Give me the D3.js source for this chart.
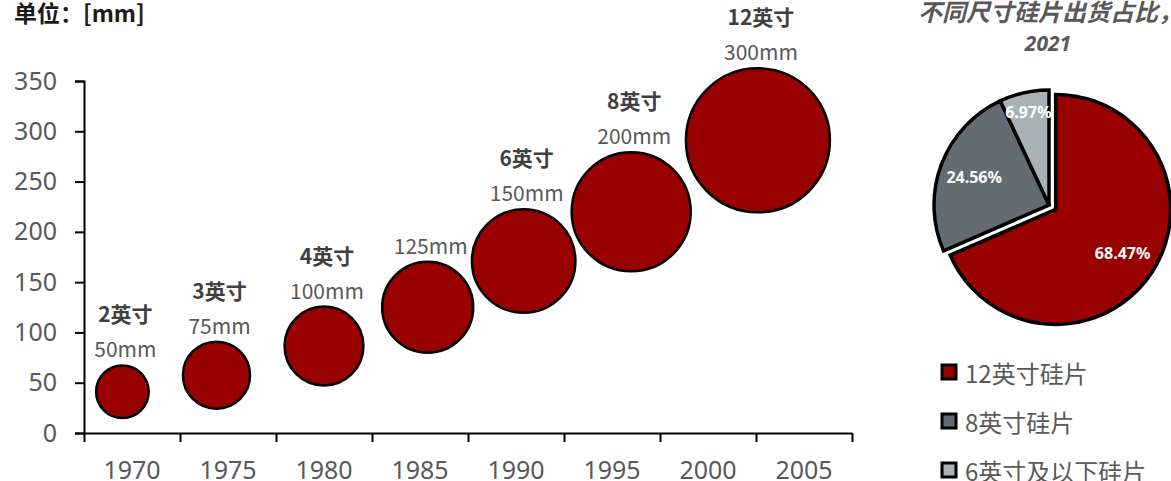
<!DOCTYPE html>
<html><head><meta charset="utf-8">
<script src="https://cdn.jsdelivr.net/npm/d3@7"></script>
<style>
body{margin:0;background:#fff;}
svg{display:block;font-family:"Noto Sans CJK SC","Noto Sans",sans-serif;}
</style></head>
<body><div id="chart"></div>
<script>
// ---- data ----
const yearLabels = ["1970","1975","1980","1985","1990","1995","2000","2005"];
const bubbleYears = [1969.5, 1974.4, 1980.0, 1985.4, 1990.4, 1996.0, 2002.6];
const bubbleValues = [41, 57.5, 86.5, 125, 171, 220, 291];
const bubbleSizes = [40, 65, 90, 120, 155, 205, 300];
const inchLabels = ["2英寸","3英寸","4英寸","","6英寸","8英寸","12英寸"];
const mmLabels = ["50mm","75mm","100mm","125mm","150mm","200mm","300mm"];
const yTicks = [0,50,100,150,200,250,300,350];
const pieCategories = ["12英寸硅片","8英寸硅片","6英寸及以下硅片"];
const pieValues = [68.47, 24.56, 6.97];
const pieColors = ["#990000","#646c71","#aab1b4"];

const W = 1171, H = 481;
const svg = d3.select("#chart").append("svg").attr("width",W).attr("height",H);

// ---- bubble chart ----
const x = d3.scaleLinear().domain([1967.5, 2007.5]).range([84, 852]);
const xBand = d3.scaleBand().domain(yearLabels).range([84, 852]);
const y = d3.scaleLinear().domain([0, 350]).range([433, 81]);
const r = d3.scaleSqrt().domain([0, 300]).range([0, 72]);

svg.append("text").attr("x",14).attr("y",12).attr("dominant-baseline","central")
  .attr("font-size",23).attr("font-weight","bold").attr("fill","#1a1a1a").text("单位：[mm]");

// y axis
const yAxis = svg.append("g").attr("transform","translate(84,0)")
  .call(d3.axisLeft(y).tickValues(yTicks).tickSize(9).tickPadding(18));
yAxis.select(".domain").attr("stroke","#000").attr("stroke-width",2);
yAxis.selectAll(".tick line").attr("stroke","#000").attr("stroke-width",2);
yAxis.selectAll(".tick text").attr("font-size",25).attr("fill","#595959")
  .attr("font-family","'Noto Sans',sans-serif");

// x axis (boundary ticks)
const bounds = d3.range(0, yearLabels.length+1).map(i => 1967.5 + 5*i);
const xAxis = svg.append("g").attr("transform","translate(0,433)")
  .call(d3.axisBottom(x).tickValues(bounds).tickSize(9).tickSizeOuter(0).tickFormat(""));
xAxis.select(".domain").attr("stroke","#000").attr("stroke-width",2);
xAxis.selectAll(".tick line").attr("stroke","#000").attr("stroke-width",2);
const xLab = svg.append("g").attr("transform","translate(0,433)")
  .call(d3.axisBottom(xBand).tickSize(0).tickPadding(28));
xLab.select(".domain").remove();
xLab.selectAll(".tick text").attr("font-size",25).attr("fill","#595959")
  .attr("font-family","'Noto Sans',sans-serif");

const bubbles = bubbleYears.map((yr,i)=>({yr, v:bubbleValues[i], s:bubbleSizes[i], inch:inchLabels[i], mm:mmLabels[i]}));
svg.append("g").selectAll("circle").data(bubbles).join("circle")
  .attr("cx",d=>x(d.yr)).attr("cy",d=>y(d.v)).attr("r",d=>r(d.s))
  .attr("fill","#990000").attr("stroke","#000").attr("stroke-width",2.5);

const lab = svg.append("g").selectAll("g").data(bubbles).join("g");
lab.append("text").attr("x",d=>x(d.yr)+3).attr("y",d=>y(d.v)-r(d.s)-17)
  .attr("text-anchor","middle").attr("dominant-baseline","central")
  .attr("font-size",21).attr("fill","#595959").text(d=>d.mm);
lab.append("text").attr("x",d=>x(d.yr)+3).attr("y",d=>y(d.v)-r(d.s)-52)
  .attr("text-anchor","middle").attr("dominant-baseline","central")
  .attr("font-size",21).attr("font-weight","bold").attr("fill","#404040").text(d=>d.inch);

// ---- pie ----
const pieG = svg.append("g");
pieG.append("text").attr("x",1050).attr("y",10).attr("text-anchor","middle").attr("dominant-baseline","central")
  .attr("font-size",24).attr("font-style","italic").attr("font-weight","bold").attr("fill","#595959")
  .text("不同尺寸硅片出货占比，");
pieG.append("text").attr("x",1048).attr("y",43).attr("text-anchor","middle").attr("dominant-baseline","central")
  .attr("font-size",21).attr("font-style","italic").attr("font-weight","bold").attr("fill","#595959")
  .attr("font-family","'Noto Sans',sans-serif").text("2021");

const pieData = pieCategories.map((c,i)=>({c, v:pieValues[i], col:pieColors[i]}));
const arcs = d3.pie().sort(null).value(d=>d.v)(pieData);
const R = 115;
const arc = d3.arc().innerRadius(0).outerRadius(R);
const cx0 = 1049, cy0 = 205;
const explode = [8, 0, 0];
const sl = pieG.selectAll("g.slice").data(arcs).join("g").attr("class","slice")
  .attr("transform",(d,i)=>{
    const a = (d.startAngle+d.endAngle)/2;
    return `translate(${cx0+Math.sin(a)*explode[i]},${cy0-Math.cos(a)*explode[i]})`;
  });
sl.append("path").attr("d",arc).attr("fill",d=>d.data.col)
  .attr("stroke","#000").attr("stroke-width",3.5).attr("stroke-linejoin","miter");
const labR = [80, 80, 95];
sl.append("text").attr("transform",(d,i)=>{
    const a=(d.startAngle+d.endAngle)/2;
    return `translate(${Math.sin(a)*labR[i]},${-Math.cos(a)*labR[i]})`;
  })
  .attr("text-anchor","middle").attr("dominant-baseline","central")
  .attr("font-size",16).attr("font-weight","bold").attr("fill","#fff")
  .attr("font-family","'Noto Sans',sans-serif")
  .text(d=>d.data.v.toFixed(2)+"%");

// legend
const lg = pieG.selectAll("g.leg").data(pieData).join("g").attr("class","leg")
  .attr("transform",(d,i)=>`translate(942,${372+i*49})`);
lg.append("rect").attr("x",0).attr("y",-7).attr("width",14).attr("height",14)
  .attr("fill",d=>d.col).attr("stroke","#000").attr("stroke-width",3);
lg.append("text").attr("x",23).attr("y",0).attr("dominant-baseline","central")
  .attr("font-size",24).attr("fill","#595959").text(d=>d.c);
</script></body></html>
